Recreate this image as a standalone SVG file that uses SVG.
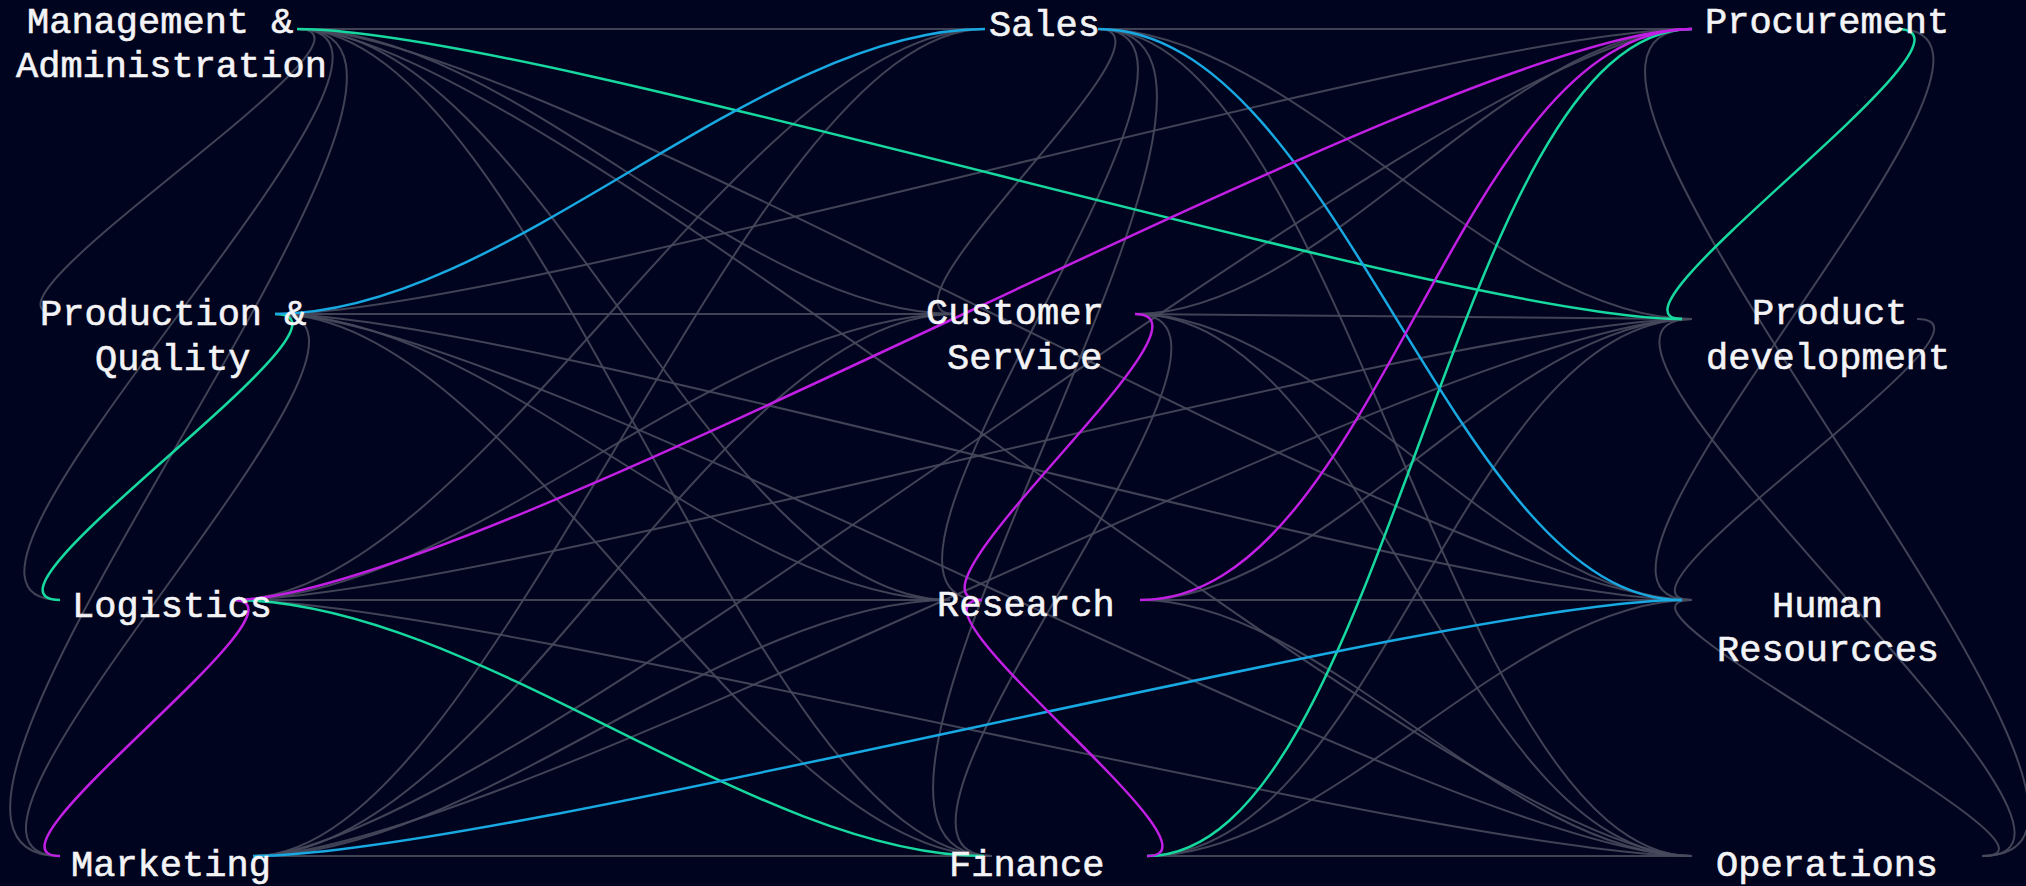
<svg xmlns="http://www.w3.org/2000/svg" width="2026" height="886" viewBox="0 0 2026 886">
<style>
.bg{fill:#01041f}
.e{fill:none;stroke:#474a5c;stroke-width:2;stroke-opacity:0.9}
.g{fill:none;stroke:#17d9a0;stroke-width:2.5}
.b{fill:none;stroke:#18a8e2;stroke-width:2.5}
.m{fill:none;stroke:#c21fe4;stroke-width:2.5}
text{font-family:"Liberation Mono","DejaVu Sans Mono",monospace;font-size:37px;fill:#f4f4f6;stroke:#f4f4f6;stroke-width:0.6}
</style>
<rect class="bg" x="0" y="0" width="2026" height="886"/>
<g id="connectors">
<path class="e" d="M297,29 C408.6,29 -53.6,314 58,314"/>
<path class="e" d="M297,29 C482.5,29 -125.5,600 60,600"/>
<path class="e" d="M297,29 C537,29 -180,856 60,856"/>
<path class="e" d="M275,314 C449.9,314 -114.9,856 60,856"/>
<path class="e" d="M1098,29 C1193.7,29 859.3,314 955,314"/>
<path class="e" d="M1098,29 C1272.8,29 807.2,600 982,600"/>
<path class="e" d="M1098,29 C1338,29 752,856 992,856"/>
<path class="e" d="M1135,314 C1303.2,314 823.8,856 992,856"/>
<path class="e" d="M1897,29 C2079,29 1510,600 1692,600"/>
<path class="e" d="M1917,319 C2025,319 1584,600 1692,600"/>
<path class="e" d="M1982,856 C2222,856 1452,29 1692,29"/>
<path class="e" d="M1982,856 C2165.1,856 1508.9,319 1692,319"/>
<path class="e" d="M1982,856 C2098,856 1576,600 1692,600"/>
<path class="e" d="M297,29 L985,29"/>
<path class="e" d="M297,29 C512.1,29 739.9,314 955,314"/>
<path class="e" d="M297,29 C537,29 710,600 950,600"/>
<path class="e" d="M297,29 C537,29 752,856 992,856"/>
<path class="e" d="M275,314 L955,314"/>
<path class="e" d="M275,314 C495,314 730,600 950,600"/>
<path class="e" d="M275,314 C515,314 752,856 992,856"/>
<path class="e" d="M233,600 C473,600 745,29 985,29"/>
<path class="e" d="M233,600 C466,600 722,314 955,314"/>
<path class="e" d="M233,600 L950,600"/>
<path class="e" d="M253,856 C493,856 745,29 985,29"/>
<path class="e" d="M253,856 C493,856 715,314 955,314"/>
<path class="e" d="M253,856 C475.8,856 727.2,600 950,600"/>
<path class="e" d="M253,856 L992,856"/>
<path class="e" d="M1098,29 L1692,29"/>
<path class="e" d="M1098,29 C1296.3,29 1493.7,319 1692,319"/>
<path class="e" d="M1098,29 C1338,29 1452,856 1692,856"/>
<path class="e" d="M1135,314 C1322.7,314 1504.3,29 1692,29"/>
<path class="e" d="M1135,314 C1302.1,314 1524.9,319 1692,319"/>
<path class="e" d="M1135,314 C1322.8,314 1504.2,600 1692,600"/>
<path class="e" d="M1135,314 C1368.2,314 1458.8,856 1692,856"/>
<path class="e" d="M1140,600 C1325.8,600 1506.2,319 1692,319"/>
<path class="e" d="M1140,600 L1692,600"/>
<path class="e" d="M1140,600 C1322.6,600 1509.4,856 1692,856"/>
<path class="e" d="M1147,856 C1376.5,856 1462.5,319 1692,319"/>
<path class="e" d="M1147,856 C1327.6,856 1511.4,600 1692,600"/>
<path class="e" d="M1147,856 L1692,856"/>
<path class="e" d="M297,29 C537,29 1452,600 1692,600"/>
<path class="e" d="M297,29 C537,29 1452,856 1692,856"/>
<path class="e" d="M275,314 C515,314 1452,29 1692,29"/>
<path class="e" d="M275,314 C515,314 1452,600 1692,600"/>
<path class="e" d="M275,314 C515,314 1452,856 1692,856"/>
<path class="e" d="M233,600 C473,600 1452,319 1692,319"/>
<path class="e" d="M233,600 C473,600 1452,856 1692,856"/>
<path class="e" d="M253,856 C493,856 1452,29 1692,29"/>
<path class="e" d="M253,856 C493,856 1452,319 1692,319"/>
<path class="g" d="M297,29 C537,29 1452,319 1682,319"/>
<path class="g" d="M275,314 C382.3,314 -47.3,600 60,600"/>
<path class="g" d="M233,600 C473,600 752,856 984,856"/>
<path class="g" d="M1147,856 C1387,856 1452,29 1692,29"/>
<path class="g" d="M1897,29 C2003.5,29 1585.5,319 1682,319"/>
<path class="b" d="M275,314 C504.5,314 755.5,29 985,29"/>
<path class="b" d="M1098,29 C1338,29 1452,600 1682,600"/>
<path class="b" d="M253,856 C493,856 1452,600 1682,600"/>
<path class="m" d="M233,600 C325.7,600 -32.7,856 60,856"/>
<path class="m" d="M233,600 C473,600 1452,29 1692,29"/>
<path class="m" d="M1140,600 C1378.3,600 1453.7,29 1692,29"/>
<path class="m" d="M1135,314 C1232.3,314 884.7,600 982,600"/>
<path class="m" d="M1147,856 C1238.3,856 890.7,600 982,600"/>
</g>
<g id="node-management"><text x="27" y="33">Management &amp;</text><text x="16" y="77">Administration</text></g>
<g id="node-production"><text x="40" y="325">Production &amp;</text><text x="95" y="370">Quality</text></g>
<g id="node-logistics"><text x="72" y="617">Logistics</text></g>
<g id="node-marketing"><text x="71" y="876">Marketing</text></g>
<g id="node-sales"><text x="989" y="36">Sales</text></g>
<g id="node-customer-service"><text x="926" y="324">Customer</text><text x="947" y="369">Service</text></g>
<g id="node-research"><text x="937" y="616">Research</text></g>
<g id="node-finance"><text x="949" y="876">Finance</text></g>
<g id="node-procurement"><text x="1705" y="33">Procurement</text></g>
<g id="node-product-development"><text x="1752" y="324">Product</text><text x="1706" y="369">development</text></g>
<g id="node-human-resources"><text x="1772" y="617">Human</text><text x="1717" y="661">Resourcces</text></g>
<g id="node-operations"><text x="1716" y="876">Operations</text></g>
</svg>
